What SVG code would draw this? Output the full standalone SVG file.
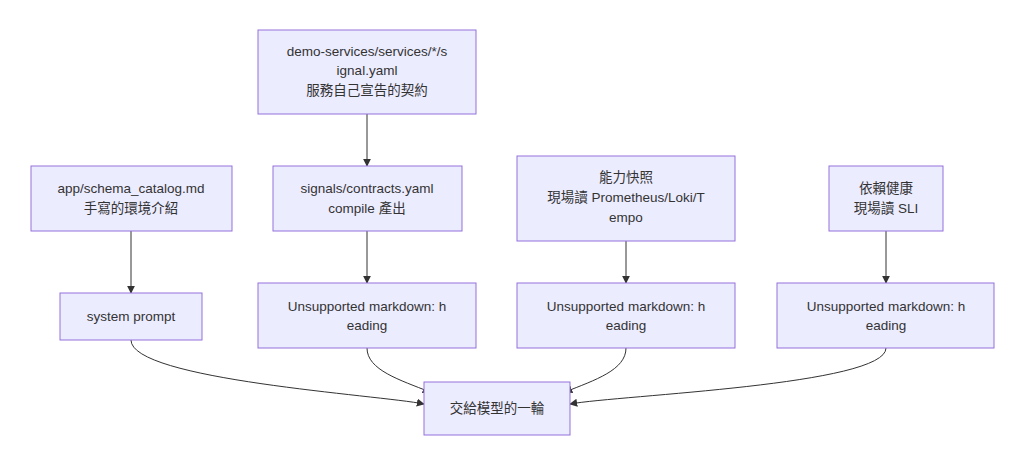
<svg xmlns="http://www.w3.org/2000/svg" width="1024" height="474" viewBox="0 0 1024 474">
<style>
.n rect{fill:#ECECFF;stroke:#9370DB;stroke-width:1}
.n text{font-family:"Liberation Sans","Noto Sans CJK TC",sans-serif;font-size:13.5px;fill:#333;text-anchor:middle}
.e path{fill:none;stroke:#333;stroke-width:1;marker-end:url(#a)}
</style>
<defs><marker id="a" viewBox="0 0 10 10" refX="9" refY="5" markerWidth="8" markerHeight="8" orient="auto"><path d="M0,0L10,5L0,10z" fill="#333"/></marker></defs>
<rect width="1024" height="474" fill="#fff"/>
<g class="e">
<path d="M367,114V166"/>
<path d="M131,231V293"/>
<path d="M367,231V283"/>
<path d="M626,241V283"/>
<path d="M886,231V283"/>
<path d="M131,340C131,380 380,395 424,404"/>
<path d="M367,348C367,370 400,380 430,392"/>
<path d="M626,348C626,370 595,380 565,392"/>
<path d="M886,348C886,385 620,395 570,404"/>
</g>
<g class="n" id="n1"><rect x="258" y="30" width="218" height="84"/><text x="367" y="56">demo-services/services/*/s</text><text x="367" y="75">ignal.yaml</text><text x="367" y="95">服務自己宣告的契約</text></g>
<g class="n" id="n2"><rect x="31" y="166" width="201" height="65"/><text x="131" y="193">app/schema_catalog.md</text><text x="131" y="213">手寫的環境介紹</text></g>
<g class="n" id="n3"><rect x="273" y="166" width="189" height="65"/><text x="367" y="193">signals/contracts.yaml</text><text x="367" y="213">compile 產出</text></g>
<g class="n" id="n4"><rect x="517" y="156" width="218" height="85"/><text x="626" y="182">能力快照</text><text x="626" y="202">現場讀 Prometheus/Loki/T</text><text x="626" y="222">empo</text></g>
<g class="n" id="n5"><rect x="829" y="166" width="114" height="65"/><text x="886" y="193">依賴健康</text><text x="886" y="213">現場讀 SLI</text></g>
<g class="n" id="n6"><rect x="60" y="293" width="142" height="47"/><text x="131" y="321">system prompt</text></g>
<g class="n" id="n7"><rect x="258" y="283" width="218" height="65"/><text x="367" y="311">Unsupported markdown: h</text><text x="367" y="330">eading</text></g>
<g class="n" id="n8"><rect x="517" y="283" width="218" height="65"/><text x="626" y="311">Unsupported markdown: h</text><text x="626" y="330">eading</text></g>
<g class="n" id="n9"><rect x="777" y="283" width="217" height="65"/><text x="886" y="311">Unsupported markdown: h</text><text x="886" y="330">eading</text></g>
<g class="n" id="n10"><rect x="424" y="382" width="146" height="53"/><text x="497" y="413">交給模型的一輪</text></g>
</svg>
